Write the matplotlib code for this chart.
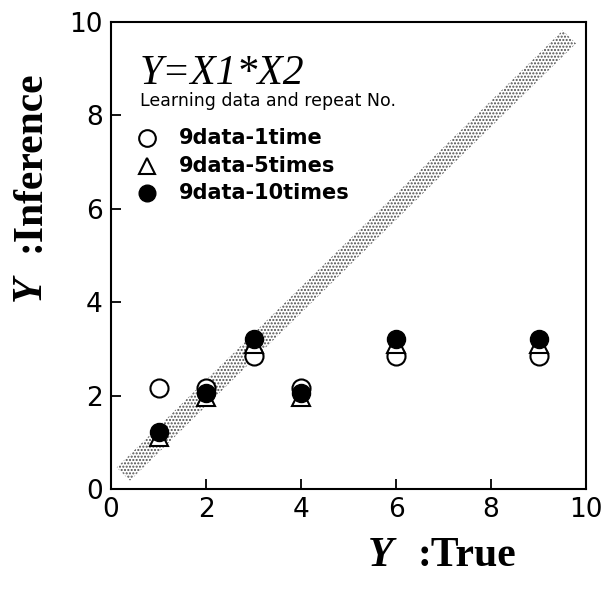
import matplotlib.pyplot as plt
from matplotlib.patches import Polygon

# true values of Y = X1*X2 for the 9 learning points
y_true = [1, 2, 3, 4, 6, 9]
# inferred values for each repeat count
inf_1time = [2.17, 2.17, 2.85, 2.17, 2.85, 2.85]
inf_5times = [1.12, 1.97, 3.1, 1.97, 3.1, 3.1]
inf_10times = [1.22, 2.05, 3.22, 2.05, 3.22, 3.22]

labels = ['9data-1time', '9data-5times', '9data-10times']
ticks = [0, 2, 4, 6, 8, 10]

fig = plt.figure(figsize=(6.15, 5.96), dpi=100)
ax = fig.add_axes([111 / 615, 1 - 489 / 596, 475 / 615, 467 / 596])

# stippled band along y = x
band = Polygon([(0.12, 0.46), (0.40, 0.18), (9.79, 9.54), (9.51, 9.82)],
               closed=True, facecolor='none', edgecolor='0.3', lw=0,
               hatch='.....', zorder=1)
ax.add_patch(band)

ms = 13
ax.plot(y_true, inf_1time, 'o', mfc='white', mec='black', mew=1.5, ms=ms, zorder=3)
ax.plot(y_true, inf_5times, '^', mfc='white', mec='black', mew=1.5, ms=ms, zorder=4)
ax.plot(y_true, inf_10times, 'o', mfc='black', mec='black', ms=ms, zorder=5)

ax.set_xlim(0, 10)
ax.set_ylim(0, 10)
ax.set_xticks(ticks)
ax.set_yticks(ticks)
ax.tick_params(direction='in', length=7, width=1.3, labelsize=19, pad=6)
for s in ax.spines.values():
    s.set_linewidth(1.5)

serif = 'Liberation Serif'
ax.text(0.06, 0.93, 'Y=X1*X2', transform=ax.transAxes, fontsize=30,
        family=serif, style='italic', va='top', ha='left')
ax.text(0.06, 0.83, 'Learning data and repeat No.', transform=ax.transAxes,
        fontsize=12.5, va='center', ha='left')

# legend drawn by hand
leg_y = [1 - (138 - 22) / 467, 1 - (166 - 22) / 467, 1 - (193 - 22) / 467]
ax.plot([0.075], [leg_y[0]], 'o', transform=ax.transAxes, mfc='white',
        mec='black', mew=1.5, ms=12)
ax.plot([0.075], [leg_y[1]], '^', transform=ax.transAxes, mfc='white',
        mec='black', mew=1.5, ms=12)
ax.plot([0.075], [leg_y[2]], 'o', transform=ax.transAxes, mfc='black',
        mec='black', ms=12)
for yy, lab in zip(leg_y, labels):
    ax.text(0.142, yy, lab, transform=ax.transAxes, fontsize=15,
            weight='bold', va='center', ha='left')

# axis labels
fig.text(381 / 615, 1 - 556 / 596, 'Y', fontsize=30, family=serif,
         style='italic', weight='bold', ha='center', va='center')
fig.text(418 / 615, 1 - 556 / 596, ':True', fontsize=30, family=serif,
         weight='bold', ha='left', va='center')
fig.text(30 / 615, 1 - 288 / 596, 'Y', fontsize=30, family=serif,
         style='italic', weight='bold', ha='center', va='center', rotation=90)
fig.text(30 / 615, 1 - 252 / 596, ':Inference', fontsize=30, family=serif,
         weight='bold', ha='center', va='bottom', rotation=90)

fig.savefig('out.png', dpi=100)
